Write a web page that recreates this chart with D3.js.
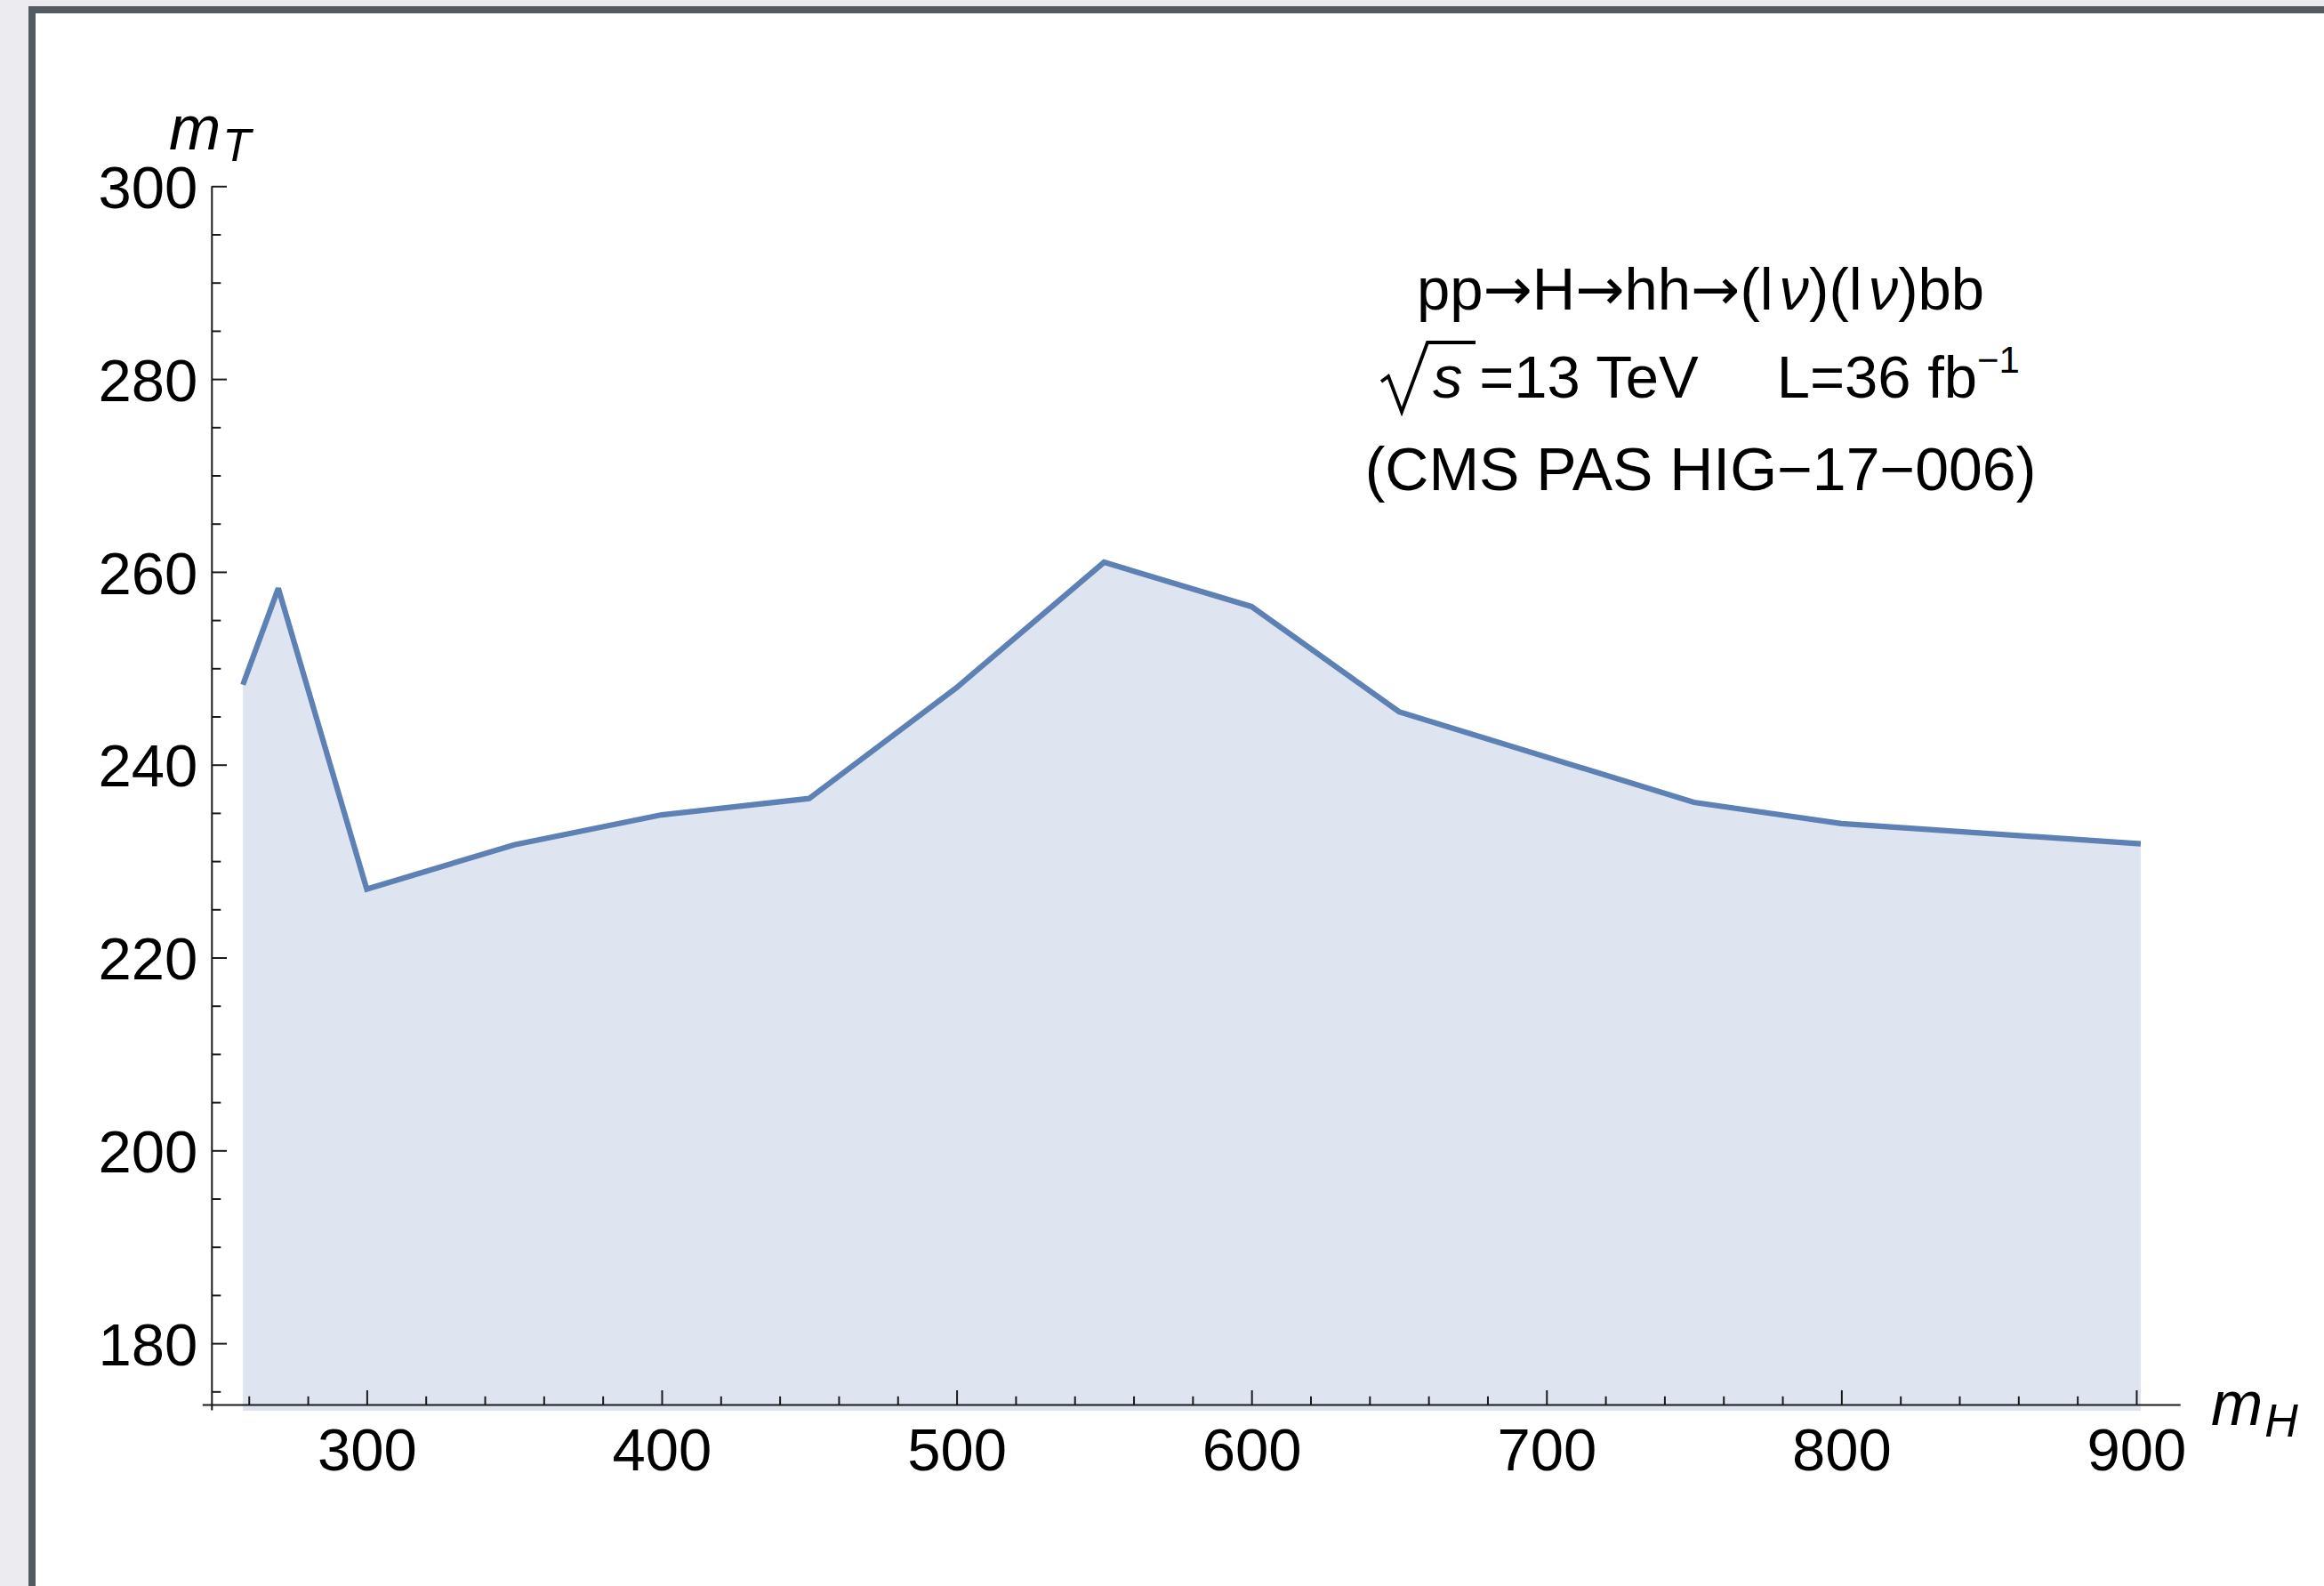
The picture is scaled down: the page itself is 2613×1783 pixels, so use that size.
<!DOCTYPE html>
<html>
<head>
<meta charset="utf-8">
<script src="https://cdn.jsdelivr.net/npm/d3@7"></script>
<style>
  html, body { margin: 0; padding: 0; background: #ebebf0; overflow: hidden; }
  svg { display: block; }
  text { font-family: "Liberation Sans", Arial, Helvetica, sans-serif; fill: #000; }
</style>
</head>
<body>
<script>
// Heavy-Higgs mass points and the corresponding mT cut values
const massH = [258, 270, 300, 350, 400, 450, 500, 550, 600, 650, 750, 800, 901.5];
const mTcut = [248.3, 258.3, 227.1, 231.7, 234.8, 236.5, 248.0, 261.0, 256.4, 245.5, 236.1, 233.9, 231.8];

// Axis ranges and tick marks
const xRange = [247.5, 915];
const yRange = [173, 300];
const axisCrossY = 173.6;
const xMajorTicks = [300, 400, 500, 600, 700, 800, 900];
const xMinorTicks = [260, 280, 320, 340, 360, 380, 420, 440, 460, 480, 520, 540, 560, 580,
                     620, 640, 660, 680, 720, 740, 760, 780, 820, 840, 860, 880];
const yMajorTicks = [180, 200, 220, 240, 260, 280, 300];
const yMinorTicks = [175, 185, 190, 195, 205, 210, 215, 225, 230, 235, 245, 250, 255,
                     265, 270, 275, 285, 290, 295];

// Annotation lines
const processLine = ["pp", "\u2192", "H", "\u2192", "hh", "\u2192", "(l", "\u03BD", ")(l", "\u03BD", ")bb"];
const energyText = " =13 TeV";
const lumiText = "L=36 fb";
const lumiExp = "\u22121";
const refText = "(CMS PAS HIG\u221217\u2212006)";

const W = 2613, H = 1783;
const FONT = 67;

const svg = d3.select("body").append("svg")
  .attr("width", W).attr("height", H);

// notebook-style frame
svg.append("rect").attr("x", 0).attr("y", 0).attr("width", W).attr("height", H).attr("fill", "#ebebf0");
svg.append("rect").attr("x", 32).attr("y", 7).attr("width", W).attr("height", H).attr("fill", "#545a61");
svg.append("rect").attr("x", 40).attr("y", 15).attr("width", W).attr("height", H).attr("fill", "#ffffff");

const x = d3.scaleLinear().domain(xRange).range([238.3, 2451.7]);
const y = d3.scaleLinear().domain(yRange).range([1586, 209.3]);

const pts = massH.map((m, i) => [m, mTcut[i]]);

// filled region down to the bottom of the plot
svg.append("path")
  .datum(pts)
  .attr("fill", "#dfe5f0")
  .attr("d", d3.area().x(d => x(d[0])).y0(y(yRange[0])).y1(d => y(d[1])));

// curve
svg.append("path")
  .datum(pts)
  .attr("fill", "none")
  .attr("stroke", "#5e81b5")
  .attr("stroke-width", 6.2)
  .attr("stroke-linejoin", "miter")
  .attr("stroke-miterlimit", 1.6)
  .attr("d", d3.line().x(d => x(d[0])).y(d => y(d[1])));

const axisColor = "#1a1a1a";
const x0 = x(xRange[0]);
const yAxisPos = y(axisCrossY);

// axis lines (with the small overshoot at the origin)
svg.append("line")
  .attr("x1", x0 - 10.5).attr("x2", x(xRange[1]))
  .attr("y1", yAxisPos).attr("y2", yAxisPos)
  .attr("stroke", axisColor).attr("stroke-width", 2);
svg.append("line")
  .attr("x1", x0).attr("x2", x0)
  .attr("y1", yAxisPos + 6).attr("y2", y(300))
  .attr("stroke", axisColor).attr("stroke-width", 2);

function styleAxis(g) {
  g.select(".domain").remove();
  g.selectAll(".tick line").attr("stroke", axisColor).attr("stroke-width", 2);
  g.selectAll(".tick text")
    .attr("fill", "#000")
    .style("font-size", FONT + "px")
    .style("font-family", '"Liberation Sans", Arial, sans-serif');
}

// x axis
svg.append("g")
  .attr("transform", `translate(0,${yAxisPos})`)
  .call(d3.axisBottom(x).tickValues(xMinorTicks).tickSize(-9.7).tickFormat(""))
  .call(styleAxis);
svg.append("g")
  .attr("transform", `translate(0,${yAxisPos})`)
  .call(d3.axisBottom(x).tickValues(xMajorTicks).tickSize(-16.5).tickPadding(26).tickFormat(d3.format("d")))
  .call(styleAxis);

// y axis
svg.append("g")
  .attr("transform", `translate(${x0},0)`)
  .call(d3.axisLeft(y).tickValues(yMinorTicks).tickSize(-10).tickFormat(""))
  .call(styleAxis);
svg.append("g")
  .attr("transform", `translate(${x0},0)`)
  .call(d3.axisLeft(y).tickValues(yMajorTicks).tickSize(-16.7).tickPadding(16).tickFormat(d3.format("d")))
  .call(g => {
    styleAxis(g);
    g.selectAll(".tick text").attr("dy", "0.36em");
  });

// axis labels m_T and m_H
const yLab = svg.append("text").attr("x", 190).attr("y", 168).style("font-size", "70px");
yLab.append("tspan").style("font-style", "italic").text("m");
yLab.append("tspan").style("font-style", "italic").style("font-size", "52px")
  .attr("dx", 2).attr("dy", 13).text("T");

const xLab = svg.append("text").attr("x", 2486).attr("y", 1601.7).style("font-size", "70px");
xLab.append("tspan").style("font-style", "italic").text("m");
xLab.append("tspan").style("font-style", "italic").style("font-size", "52px")
  .attr("dx", 2).attr("dy", 13).text("H");

// annotation block
const cx = 1912;
const l1 = svg.append("text").attr("x", cx).attr("y", 348)
  .attr("text-anchor", "middle").style("font-size", FONT + "px");
processLine.forEach(s => {
  const t = l1.append("tspan").text(s);
  if (s === "\u2192") {
    t.style("font-family", '"DejaVu Sans", sans-serif').style("font-size", "66px");
  } else if (s === "\u03BD") {
    t.style("font-style", "italic").attr("dx", 7);
  }
});

const g2 = svg.append("g");
const l2 = g2.append("text").attr("x", 0).attr("y", 0).style("font-size", FONT + "px");
l2.append("tspan").attr("dx", 58).style("font-style", "italic").text("s");
l2.append("tspan").text(energyText);
l2.append("tspan").attr("dx", 88).text(lumiText);
l2.append("tspan").attr("dy", -28).style("font-size", "42px").text(lumiExp);
// radical sign over s
g2.append("path")
  .attr("d", "M0,-18 L8,-24 L23,16 L52,-62 L106,-62")
  .attr("fill", "none").attr("stroke", "#000").attr("stroke-width", 3.8)
  .attr("stroke-linejoin", "miter");
const bb2 = g2.node().getBBox();
g2.attr("transform", `translate(${cx - (bb2.x + bb2.width / 2)},447)`);

svg.append("text").attr("x", cx).attr("y", 551)
  .attr("text-anchor", "middle").style("font-size", "68px").text(refText);
</script>
</body>
</html>
